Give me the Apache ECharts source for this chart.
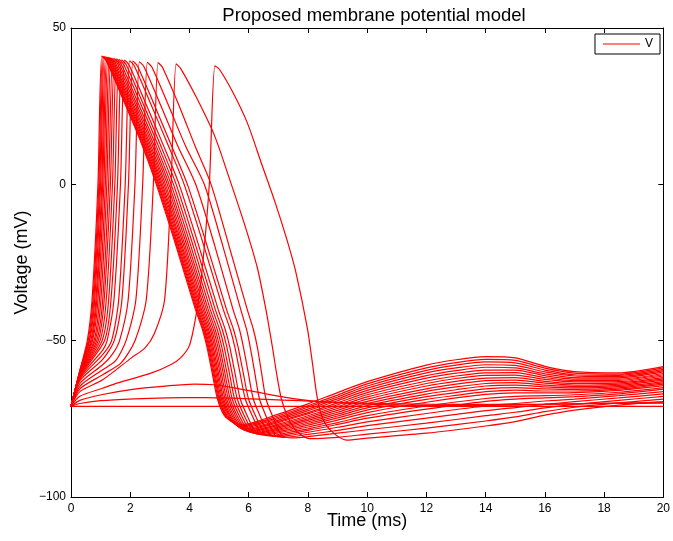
<!DOCTYPE html>
<html>
<head>
<meta charset="utf-8">
<title>Proposed membrane potential model</title>
<script src="https://cdn.jsdelivr.net/npm/echarts@6/dist/echarts.min.js"></script>
<style>
    html, body { margin: 0; padding: 0; background: #fff; }
    #main { width: 673px; height: 541px; }
</style>
</head>
<body>
<div id="main"></div>
<script>
// traces, each point is [time (ms), voltage (mV)]
// subthreshold responses
var rest = [[0,-71],[20,-71]];
var subLow = [[0,-71],[0.3,-70.1],[1.0,-69.2],[2.14,-68.6],[3.26,-68.3],[4.5,-68.2],[5.5,-68.4],[6.6,-68.8],[7.7,-69.2],[8.4,-69.5],[10,-70.0],[12,-70.3],[14,-70.4],[16,-70.3],[18,-70.1],[20,-70.0]];
var subHigh = [[0,-71],[0.3,-69.1],[1.02,-67.3],[2.14,-65.5],[3.26,-64.45],[4.16,-63.9],[4.83,-64.1],[5.46,-65.0],[6.58,-67.0],[7.7,-68.8],[8.37,-69.5],[10,-70.3],[12,-70.7],[14,-70.7],[16,-70.4],[18,-70.0],[20,-69.7]];

// spikes, earliest first
var ap01 = [[0,-71],[0.3,-59.5],[0.55,-50],[0.71,-37],[0.91,0],[1.04,41],[1.19,39.5],[1.74,27.5],[2.34,14],[2.88,0],[3.54,-19.5],[4.2,-40],[4.44,-46.5],[4.59,-52],[4.76,-60],[4.94,-68.5],[5.18,-74],[5.49,-76.1],[5.79,-76.8],[7,-73.5],[8,-70.2],[9,-66.6],[10,-63.1],[12,-57.8],[13,-56.1],[14,-55.1],[15,-55.5],[16,-58.2],[17,-59.9],[18.5,-60.3],[20,-58.3]];
var ap02 = [[0,-71],[0.3,-59.6],[0.58,-50],[0.74,-37],[0.94,0],[1.07,40.9],[1.22,39.4],[1.77,27.4],[2.37,13.9],[2.91,0],[3.57,-19.5],[4.23,-40],[4.47,-46.5],[4.62,-52],[4.79,-60],[4.97,-68.5],[5.21,-74],[5.52,-76.4],[5.82,-77.1],[7,-74.0],[8,-70.8],[9,-67.4],[10,-63.8],[12,-58.7],[13,-57.0],[14,-56.0],[15,-56.3],[16,-58.8],[17,-60.4],[18.5,-60.7],[20,-58.7]];
var ap03 = [[0,-71],[0.3,-59.7],[0.61,-50],[0.77,-37],[0.97,0],[1.1,40.9],[1.25,39.4],[1.8,27.4],[2.4,13.9],[2.94,0],[3.6,-19.5],[4.26,-40],[4.5,-46.5],[4.65,-52],[4.82,-60],[5.0,-68.5],[5.24,-74],[5.55,-76.7],[5.85,-77.4],[7,-74.5],[8,-71.3],[9,-68.0],[10,-64.5],[12,-59.5],[13,-57.8],[14,-56.8],[15,-57.1],[16,-59.4],[17,-60.9],[18.5,-61.1],[20,-59.2]];
var ap04 = [[0,-71],[0.3,-59.8],[0.63,-50],[0.8,-37],[1.0,0],[1.13,40.8],[1.28,39.3],[1.83,27.3],[2.43,13.8],[2.97,0],[3.63,-19.5],[4.29,-40],[4.53,-46.5],[4.68,-52],[4.85,-60],[5.03,-68.5],[5.27,-74],[5.58,-77.0],[5.88,-77.7],[7,-74.9],[8,-71.9],[9,-68.6],[10,-65.2],[12,-60.3],[13,-58.7],[14,-57.7],[15,-57.9],[16,-60.0],[17,-61.3],[18.5,-61.5],[20,-59.6]];
var ap05 = [[0,-71],[0.3,-60.0],[0.67,-50],[0.84,-37],[1.04,0],[1.17,40.8],[1.32,39.3],[1.87,27.3],[2.47,13.8],[3.01,0],[3.67,-19.5],[4.33,-40],[4.57,-46.5],[4.72,-52],[4.89,-60],[5.07,-68.5],[5.31,-74],[5.62,-77.3],[5.92,-78.0],[7,-75.4],[8,-72.4],[9,-69.2],[10,-65.9],[12,-61.2],[13,-59.6],[14,-58.5],[15,-58.7],[16,-60.6],[17,-61.8],[18.5,-61.9],[20,-60.0]];
var ap06 = [[0,-71],[0.3,-60.2],[0.7,-50],[0.87,-37],[1.07,0],[1.21,40.7],[1.36,39.2],[1.91,27.2],[2.51,13.7],[3.05,0],[3.71,-19.5],[4.37,-40],[4.61,-46.5],[4.76,-52],[4.93,-60],[5.11,-68.5],[5.35,-74],[5.66,-77.6],[5.96,-78.3],[7,-75.8],[8,-73.0],[9,-69.9],[10,-66.6],[12,-62.0],[13,-60.4],[14,-59.4],[15,-59.4],[16,-61.2],[17,-62.3],[18.5,-62.3],[20,-60.5]];
var ap07 = [[0,-71],[0.3,-60.3],[0.73,-50],[0.91,-37],[1.11,0],[1.25,40.6],[1.4,39.1],[1.95,27.1],[2.55,13.6],[3.09,0],[3.75,-19.5],[4.41,-40],[4.65,-46.5],[4.8,-52],[4.97,-60],[5.15,-68.5],[5.39,-74],[5.7,-77.8],[6.0,-78.5],[7,-76.2],[8,-73.4],[9,-70.5],[10,-67.3],[12,-62.9],[13,-61.3],[14,-60.3],[15,-60.2],[16,-61.8],[17,-62.8],[18.5,-62.7],[20,-60.9]];
var ap08 = [[0,-71],[0.3,-60.5],[0.78,-50],[0.96,-37],[1.16,0],[1.3,40.5],[1.45,39.0],[2.0,27.0],[2.6,13.5],[3.14,0],[3.8,-19.5],[4.46,-40],[4.7,-46.5],[4.85,-52],[5.02,-60],[5.2,-68.5],[5.44,-74],[5.75,-78.1],[6.05,-78.8],[7,-76.7],[8,-74.0],[9,-71.1],[10,-68.0],[12,-63.7],[13,-62.1],[14,-61.1],[15,-61.0],[16,-62.4],[17,-63.2],[18.5,-63.1],[20,-61.3]];
var ap09 = [[0,-71],[0.3,-60.6],[0.82,-50],[1.01,-37],[1.21,0],[1.35,40.4],[1.5,38.9],[2.05,26.9],[2.65,13.4],[3.19,0],[3.85,-19.5],[4.51,-40],[4.75,-46.5],[4.9,-52],[5.07,-60],[5.25,-68.5],[5.49,-74],[5.8,-78.3],[6.1,-79.0],[7,-77.1],[8,-74.5],[9,-71.7],[10,-68.7],[12,-64.5],[13,-63.0],[14,-62.0],[15,-61.8],[16,-63.0],[17,-63.7],[18.5,-63.5],[20,-61.8]];
var ap10 = [[0,-71],[0.3,-60.8],[0.87,-50],[1.07,-37],[1.27,0],[1.41,40.3],[1.56,38.8],[2.11,26.8],[2.71,13.3],[3.25,0],[3.91,-19.5],[4.57,-40],[4.81,-46.5],[4.96,-52],[5.13,-60],[5.31,-68.5],[5.55,-74],[5.86,-78.5],[6.16,-79.2],[7,-77.5],[8,-75.0],[9,-72.3],[10,-69.4],[12,-65.4],[13,-63.9],[14,-62.8],[15,-62.6],[16,-63.6],[17,-64.2],[18.5,-63.9],[20,-62.2]];
var ap11 = [[0,-71],[0.3,-61.0],[0.92,-50],[1.12,-37],[1.33,0],[1.47,40.2],[1.62,38.7],[2.17,26.7],[2.77,13.2],[3.31,0],[3.97,-19.5],[4.63,-40],[4.87,-46.5],[5.02,-52],[5.19,-60],[5.37,-68.5],[5.61,-74],[5.92,-78.7],[6.22,-79.4],[7,-77.9],[8,-75.5],[9,-72.9],[10,-70.1],[12,-66.2],[13,-64.8],[14,-63.7],[15,-63.4],[16,-64.2],[17,-64.7],[18.5,-64.3],[20,-62.6]];
var ap12 = [[0,-71],[0.3,-61.2],[0.98,-50],[1.19,-37],[1.4,0],[1.54,40.1],[1.69,38.6],[2.24,26.6],[2.84,13.1],[3.38,0],[4.04,-19.5],[4.7,-40],[4.94,-46.5],[5.09,-52],[5.26,-60],[5.44,-68.5],[5.68,-74],[5.99,-78.9],[6.29,-79.6],[7,-78.3],[8,-76.0],[9,-73.5],[10,-70.8],[12,-67.1],[13,-65.7],[14,-64.5],[15,-64.2],[16,-64.8],[17,-65.1],[18.5,-64.7],[20,-63.1]];
var ap13 = [[0,-71],[0.3,-61.4],[1.05,-50],[1.27,-37],[1.48,0],[1.62,40.0],[1.77,38.5],[2.32,26.5],[2.92,13.0],[3.46,0],[4.12,-19.5],[4.78,-40],[5.02,-46.5],[5.17,-52],[5.34,-60],[5.52,-68.5],[5.76,-74],[6.07,-79.1],[6.37,-79.8],[7,-78.7],[8,-76.5],[9,-74.1],[10,-71.5],[12,-67.9],[13,-66.6],[14,-65.4],[15,-65.0],[16,-65.4],[17,-65.6],[18.5,-65.1],[20,-63.5]];
var ap14 = [[0,-71],[0.3,-61.6],[1.13,-50],[1.35,-37],[1.57,0],[1.71,39.8],[1.86,38.3],[2.41,26.3],[3.01,12.8],[3.55,0],[4.21,-19.5],[4.87,-40],[5.11,-46.5],[5.26,-52],[5.43,-60],[5.61,-68.5],[5.85,-74],[6.16,-79.3],[6.46,-80.0],[7,-79.1],[8,-77.0],[9,-74.7],[10,-72.2],[12,-68.8],[13,-67.5],[14,-66.3],[15,-65.8],[16,-66.1],[17,-66.1],[18.5,-65.5],[20,-63.9]];
var ap15 = [[0,-71],[0.3,-61.9],[1.07,-53],[1.22,-50],[1.45,-37],[1.67,0],[1.81,39.7],[1.96,38.2],[2.51,26.2],[3.11,12.7],[3.65,0],[4.31,-19.5],[4.97,-40],[5.21,-46.5],[5.36,-52],[5.53,-60],[5.71,-68.5],[5.95,-74],[6.26,-79.5],[6.56,-80.2],[7,-79.5],[8,-77.6],[9,-75.4],[10,-73.0],[12,-69.7],[14,-67.2],[15,-66.7],[16,-66.7],[17,-66.6],[18.5,-65.9],[20,-64.4]];
var ap16 = [[0,-71],[0.3,-62.3],[1.07,-54.5],[1.37,-50],[1.61,-37],[1.83,0],[1.98,39.5],[2.13,38.0],[2.68,26.0],[3.28,12.5],[3.82,0],[4.48,-19.5],[5.14,-40],[5.38,-46.5],[5.53,-52],[5.7,-60],[5.88,-68.5],[6.12,-74],[6.43,-79.7],[6.73,-80.4],[7,-80.0],[8,-78.2],[9,-76.2],[10,-74.0],[12,-70.9],[14,-68.5],[15,-67.8],[16,-67.6],[17,-67.3],[18.5,-66.5],[20,-65.0]];
var ap17 = [[0,-71],[0.3,-62.8],[1.07,-56],[1.46,-50],[1.72,-37],[1.94,0],[2.09,39.4],[2.24,37.9],[2.79,25.9],[3.39,12.4],[3.93,0],[4.59,-19.5],[5.25,-40],[5.49,-46.5],[5.64,-52],[5.81,-60],[5.99,-68.5],[6.23,-74],[6.54,-79.8],[6.84,-80.5],[8,-78.7],[9,-76.8],[10,-74.8],[12,-71.9],[14,-69.4],[15,-68.7],[16,-68.3],[17,-67.9],[18.5,-67.0],[20,-65.5]];
var ap18 = [[0,-71],[0.3,-63.7],[1.07,-57.7],[1.4,-54.3],[1.64,-50],[1.93,-37],[2.16,0],[2.31,39.2],[2.46,37.7],[3.01,25.7],[3.61,12.2],[4.21,0],[4.85,-19.5],[5.47,-40],[5.69,-46.5],[5.82,-52],[5.98,-60],[6.15,-68.5],[6.38,-74],[6.68,-80.0],[6.96,-80.7],[8,-79.3],[9,-77.7],[10,-76.0],[12,-73.3],[14,-70.9],[15,-70.1],[16,-69.3],[17,-68.7],[18.5,-67.6],[20,-66.3]];
var ap19 = [[0,-71],[0.3,-64.6],[1.07,-59.3],[1.5,-56.5],[1.86,-50],[2.19,-37],[2.42,0],[2.58,39.0],[2.73,37.5],[3.28,25.5],[3.88,12.0],[4.5,0],[5.12,-19.5],[5.73,-40],[5.93,-46.5],[6.05,-52],[6.2,-60],[6.36,-68.5],[6.58,-74],[6.88,-80.2],[7.18,-80.9],[8,-80.0],[9,-78.7],[10,-77.2],[12,-74.8],[14,-72.4],[15,-71.4],[16,-70.4],[17,-69.5],[18.5,-68.3],[20,-67.0]];
var ap20 = [[0,-71],[0.3,-65.4],[1.07,-60.9],[1.7,-57],[2.16,-50],[2.54,-37],[2.78,0],[2.94,38.9],[3.09,37.4],[3.64,25.4],[4.2,12.0],[4.73,0],[5.33,-19.5],[5.95,-40],[6.16,-46.5],[6.29,-52],[6.43,-60],[6.58,-68.5],[6.8,-74],[7.12,-80.3],[7.49,-81.1],[8,-80.7],[9,-79.6],[10,-78.5],[12,-76.4],[14,-74.0],[15,-72.9],[16,-71.5],[17,-70.4],[18.5,-69.1],[20,-67.8]];
var ap21 = [[0,-71],[0.3,-66.3],[1.07,-62.5],[2.04,-55.5],[2.5,-52.3],[2.82,-47.6],[3.16,-37],[3.38,0],[3.55,38.5],[3.7,37.1],[4.25,27.5],[4.85,15.5],[5.36,1.5],[5.9,-14],[6.3,-27],[6.6,-41],[6.8,-52],[6.95,-61],[7.1,-68.5],[7.3,-74],[7.6,-78.8],[8.05,-81.3],[9,-80.9],[10,-79.9],[12,-78.0],[14,-75.7],[15,-74.4],[16,-72.7],[17,-71.3],[18.5,-69.9],[20,-68.7]];
var ap22 = [[0,-71],[0.3,-67.8],[1.07,-65.2],[1.58,-63.5],[2.7,-60.4],[3.38,-57.6],[3.7,-55.5],[4.0,-51.5],[4.22,-42],[4.4,-30],[4.67,0],[4.86,37.9],[5.01,36.8],[5.46,29.5],[5.96,19.5],[6.42,7],[6.9,-6],[7.3,-18],[7.59,-28],[7.98,-46],[8.15,-57],[8.31,-68],[8.5,-75],[8.8,-79],[9.3,-81.8],[10,-81.2],[12,-79.6],[14,-77.3],[15,-75.9],[16,-73.8],[17,-72.2],[18.5,-70.6],[20,-69.5]];

var traces = [rest, subLow, subHigh,
    ap01, ap02, ap03, ap04, ap05, ap06, ap07, ap08, ap09, ap10, ap11,
    ap12, ap13, ap14, ap15, ap16, ap17, ap18, ap19, ap20, ap21, ap22];

var chart = echarts.init(document.getElementById('main'));
var font = '"Liberation Sans", Arial, Helvetica, sans-serif';

function minus(v) {
    return v < 0 ? '\u2212' + (-v) : '' + v;
}

// the four sides of the box, ticks pointing inwards like matlab
function frameAxis(pos, extra) {
    var axis = {
        type: 'value',
        position: pos,
        axisLine: { show: true, onZero: false, lineStyle: { color: '#000', width: 1 } },
        axisTick: { show: true, inside: true, length: 5, lineStyle: { color: '#000' } },
        axisLabel: { show: false },
        splitLine: { show: false }
    };
    for (var k in extra) axis[k] = extra[k];
    return axis;
}

var xRange = { min: 0, max: 20, interval: 2 };
var yRange = { min: -100, max: 50, interval: 50 };

var option = {
    backgroundColor: '#fff',
    animation: false,
    title: {
        text: 'Proposed membrane potential model',
        left: 369,
        textAlign: 'center',
        top: 1,
        textStyle: { fontFamily: font, fontSize: 18.5, fontWeight: 'normal', color: '#000' }
    },
    legend: {
        data: [{ name: 'V', icon: 'rect' }],
        right: 13,
        top: 34,
        itemWidth: 37,
        itemHeight: 1,
        itemGap: 5,
        padding: [4, 7, 4, 8],
        borderColor: '#000',
        borderWidth: 1,
        backgroundColor: '#fff',
        selectedMode: false,
        textStyle: { fontFamily: font, fontSize: 12, color: '#000' }
    },
    grid: { left: 71, right: 7, top: 28, bottom: 44 },
    xAxis: [
        frameAxis('bottom', {
            min: xRange.min, max: xRange.max, interval: xRange.interval,
            axisLabel: { show: true, color: '#000', fontFamily: font, fontSize: 12, margin: 6 },
            name: 'Time (ms)',
            nameLocation: 'middle',
            nameGap: 15,
            nameMoveOverlap: false,
            nameTextStyle: { fontFamily: font, fontSize: 18, color: '#000', verticalAlign: 'top' }
        }),
        frameAxis('top', { min: xRange.min, max: xRange.max, interval: xRange.interval })
    ],
    yAxis: [
        frameAxis('left', {
            min: yRange.min, max: yRange.max, interval: yRange.interval,
            axisLabel: { show: true, color: '#000', fontFamily: font, fontSize: 12, margin: 5, formatter: minus },
            name: 'Voltage (mV)',
            nameLocation: 'middle',
            nameGap: 40,
            nameMoveOverlap: false,
            nameTextStyle: { fontFamily: font, fontSize: 18, color: '#000' }
        }),
        frameAxis('right', { min: yRange.min, max: yRange.max, interval: yRange.interval })
    ],
    series: traces.map(function (d) {
        return {
            name: 'V',
            type: 'line',
            data: d,
            symbol: 'none',
            smooth: 0.25,
            silent: true,
            lineStyle: { color: '#ff0000', width: 1.2 },
            itemStyle: { color: '#ff0000' }
        };
    })
};
chart.setOption(option);
</script>
</body>
</html>
